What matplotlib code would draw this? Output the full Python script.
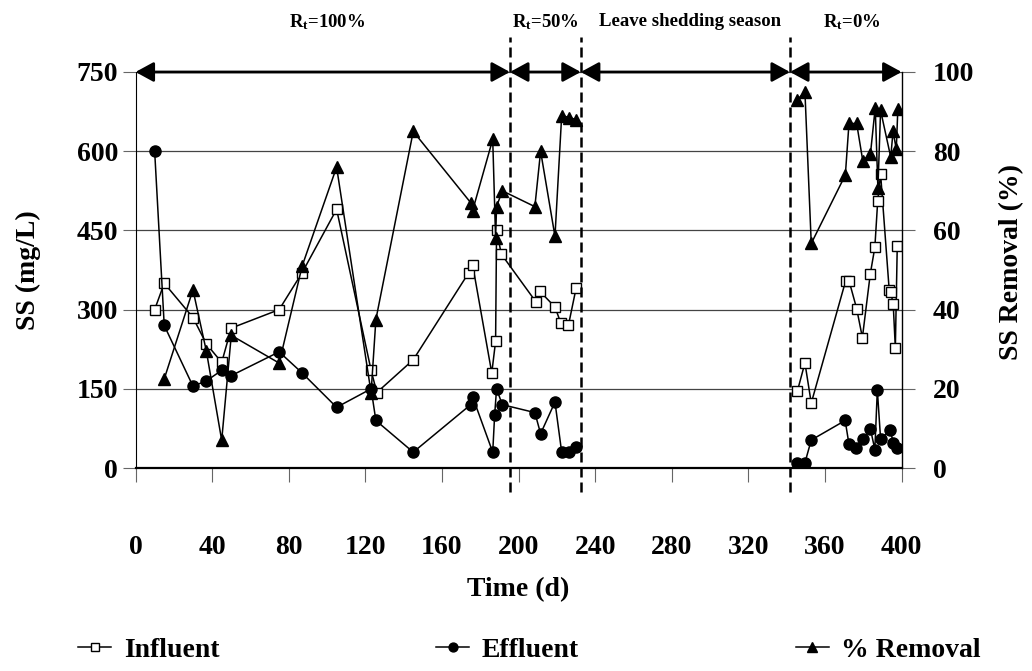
import matplotlib
matplotlib.use("Agg")
import matplotlib.pyplot as plt
import numpy as np

plt.rcParams['font.family'] = 'Liberation Serif'
plt.rcParams['font.weight'] = 'bold'
plt.rcParams['axes.labelweight'] = 'bold'
plt.rcParams['mathtext.fontset'] = 'custom'
plt.rcParams['mathtext.rm'] = 'Liberation Serif:bold'
plt.rcParams['mathtext.it'] = 'Liberation Serif:bold'
plt.rcParams['mathtext.bf'] = 'Liberation Serif:bold'

# influent SS (mg/L)
inf_day = [10, 15, 30, 37, 45, 50, 75, 87, 105, 123, 126, 145, 174, 176, 186, 188, 188.5, 191,
           209, 211, 219, 222, 226, 230, 345.5, 349.5, 352.8, 370.8, 372.5, 376.5, 379.5,
           383.6, 386, 387.5, 389, 393.5, 394.3, 395.6, 396.7, 397.7]
influent = [300, 350, 285, 235, 200, 265, 300, 370, 490, 185, 143, 205, 370, 385, 180, 240, 450, 405,
            315, 335, 305, 275, 270, 340, 145, 199, 123, 355, 355, 302, 247,
            367, 418, 506, 557, 337, 333, 310, 227, 420]

# effluent SS (mg/L)
eff_day = [10, 15, 30, 37, 45, 50, 75, 87, 105, 123, 125.5, 145, 175, 176, 186.5, 187.5, 188.5, 191.5,
           208.5, 211.5, 219, 222.5, 226.5, 230, 345.5, 349.5, 352.8, 370.5, 372.5, 376.3, 379.8,
           383.7, 386, 387.3, 389, 394, 395.7, 397.8]
effluent = [600, 270, 155, 165, 185, 175, 220, 180, 115, 150, 90, 30, 120, 135, 30, 100, 150, 120,
            105, 65, 125, 30, 30, 40, 10, 10, 53, 90, 45, 37, 55,
            74, 35, 148, 55, 72, 47, 38]

# SS removal (%)
rem_day = [15, 30, 37, 45, 50, 75, 87, 105, 123, 125.5, 145, 175, 176, 186.5, 188, 188.5, 191.5,
           208.5, 211.5, 219, 222.5, 226.5, 230, 345.5, 349.5, 352.8, 370.6, 372.5, 376.5, 379.7,
           383.7, 386.2, 387.6, 389, 394.3, 395.5, 397.2, 398]
removal = [22.5, 45, 29.5, 7, 33.5, 26.5, 51, 76, 19, 37.5, 85, 67, 65, 83, 58, 66, 70,
           66, 80, 58.5, 89, 88.5, 88, 93, 95, 56.7, 74, 87, 87, 77.6,
           79.3, 91, 70.6, 90.3, 78.5, 85, 80.5, 90.6]

# period boundaries (d) and labels
bounds = [0, 195.5, 232.5, 341.7, 400]
period_x = [100, 214, 289.5, 374]
period_labels = [r'$\mathrm{R_t}$=100%', r'$\mathrm{R_t}$=50%', 'Leave shedding season', r'$\mathrm{R_t}$=0%']


def break_gap(x, y, gap=60):
    # no line across the leave shedding season
    x = np.asarray(x, float)
    y = np.asarray(y, float)
    cut = np.where(np.diff(x) > gap)[0] + 1
    return np.insert(x, cut, np.nan), np.insert(y, cut, np.nan)


fig = plt.figure(figsize=(10.32, 6.71), dpi=100)
ax = fig.add_axes([0.1313, 0.3025, 0.7424, 0.5902])
ax2 = ax.twinx()

l1, = ax.plot(*break_gap(inf_day, influent), color='black', lw=1.1, marker='s', ms=7.5,
              mfc='white', mec='black', mew=1.0)
l2, = ax.plot(*break_gap(eff_day, effluent), color='black', lw=1.1, marker='o', ms=8,
              mfc='black', mec='black')
l3, = ax2.plot(*break_gap(rem_day, removal), color='black', lw=1.1, marker='^', ms=9,
               mfc='black', mec='black')

ax.set_xlim(0, 400)
ax.set_ylim(0, 750)
ax2.set_ylim(0, 100)
ax.set_xticks(range(0, 401, 40))
ax.set_yticks(range(0, 751, 150))
ax2.set_yticks(range(0, 101, 20))

ax.yaxis.grid(True, color='#444444', lw=0.9)
ax.set_axisbelow(True)

ax.tick_params(axis='x', direction='out', length=10, width=0.8, color='#666666', pad=38, labelsize=20)
ax.tick_params(axis='y', direction='out', length=9.5, width=0.8, color='#666666', pad=3, labelsize=20)
ax2.tick_params(axis='y', direction='out', length=9.5, width=0.8, color='#666666', pad=13, labelsize=20)

for a in (ax, ax2):
    a.spines['top'].set_visible(False)
ax.spines['right'].set_visible(False)
ax2.spines['left'].set_visible(False)
ax2.spines['bottom'].set_visible(False)
ax.spines['bottom'].set_linewidth(1.6)
ax.spines['left'].set_linewidth(0.8)
ax2.spines['right'].set_linewidth(1.0)

ax.set_xlabel('Time (d)', fontsize=20)
ax.xaxis.set_label_coords(0.5, -0.275)
fig.text(28 / 1032, 1 - 270 / 671, 'SS (mg/L)', rotation=90, ha='center', va='center', fontsize=20)
fig.text(1012 / 1032, 1 - 262 / 671, 'SS Removal (%)', rotation=90, ha='center', va='center', fontsize=20)

# period arrows along the top
for x0, x1 in zip(bounds[:-1], bounds[1:]):
    ax.annotate('', xy=(x1, 750), xytext=(x0, 750), annotation_clip=False,
                arrowprops=dict(arrowstyle='<|-|>,head_length=0.55,head_width=0.3',
                                lw=2, color='black', shrinkA=0, shrinkB=0, mutation_scale=20))

# dashed period separators
for xb in bounds[1:-1]:
    ax.plot([xb, xb], [-45, 816], color='black', lw=1.8, dashes=(4, 2), clip_on=False, zorder=5)

for xp, lab in zip(period_x, period_labels):
    ax.text(xp, 845, lab, ha='center', va='center', fontsize=13.5)

fig.legend(handles=[l1, l2, l3], labels=['Influent', 'Effluent', '% Removal'],
           loc='center left', bbox_to_anchor=(78 / 1032, 1 - 650 / 671), ncol=3,
           frameon=False, handlelength=1.2, handletextpad=0.45, columnspacing=7.8,
           borderpad=0, borderaxespad=0, fontsize=20, markerscale=0.8)

fig.savefig('out.png', dpi=100)
